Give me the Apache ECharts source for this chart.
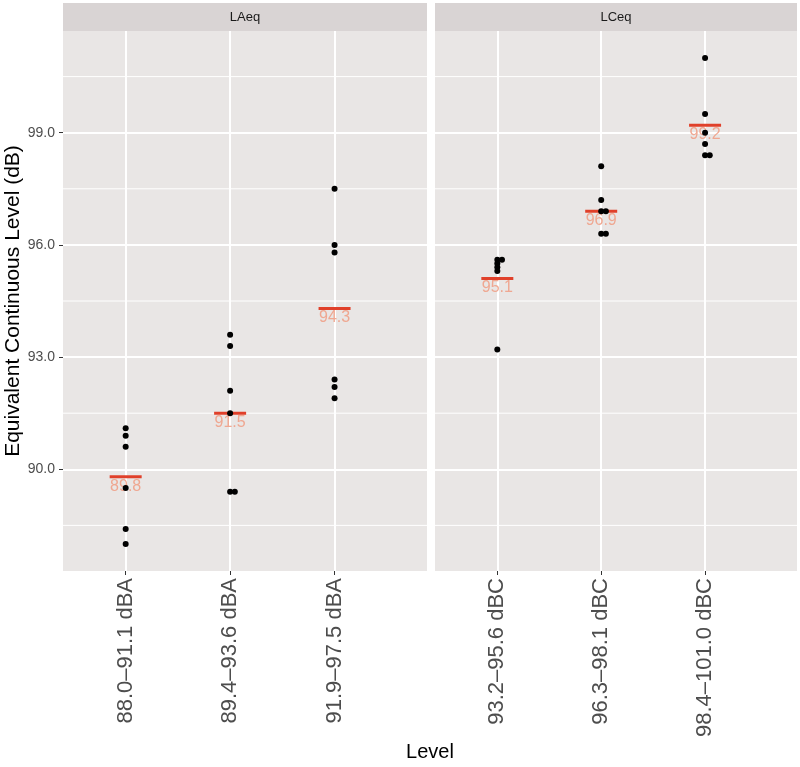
<!DOCTYPE html>
<html><head><meta charset="utf-8">
<script src="https://cdn.jsdelivr.net/npm/echarts@6/dist/echarts.min.js"></script>
<style>html,body{margin:0;padding:0;background:#fff}#c{width:800px;height:767px}</style>
</head><body><div id="c"></div>
<script>
// ---- data ----
const panelNames = ['LAeq', 'LCeq'];
const laeqCategories = ['88.0\u201391.1 dBA', '89.4\u201393.6 dBA', '91.9\u201397.5 dBA'];
const lceqCategories = ['93.2\u201395.6 dBC', '96.3\u201398.1 dBC', '98.4\u2013101.0 dBC'];
const laeqValues = [
  [91.1, 90.9, 90.6, 89.5, 88.4, 88.0],
  [93.6, 93.3, 92.1, 91.5, 89.4, 89.4],
  [97.5, 96.0, 95.8, 92.4, 92.2, 91.9]
];
const lceqValues = [
  [95.6, 95.6, 95.5, 95.4, 95.3, 93.2],
  [98.1, 97.2, 96.9, 96.9, 96.3, 96.3],
  [101.0, 99.5, 99.0, 98.7, 98.4, 98.4]
];
const laeqMeans = [89.8, 91.5, 94.3];
const lceqMeans = [95.1, 96.9, 99.2];
const yMajorTicks = [90, 93, 96, 99];
const yMinorTicks = [88.5, 91.5, 94.5, 97.5, 100.5];
const yTitle = 'Equivalent Continuous Level (dB)';
const xTitle = 'Level';

// ---- layout / style ----
const Y_MIN = 87.28, Y_MAX = 101.72;
const X_MIN = -0.6, X_MAX = 2.885;
const grids = [
  { left: 63, top: 31, width: 364, height: 540 },
  { left: 435, top: 31, width: 362, height: 540 }
];
const STRIP_H = 28;
const panelBg = '#e9e6e5';
const stripBg = '#d9d4d4';
const tickColor = '#4d4d4d';
const FONT = '"Liberation Sans", Arial, Helvetica, sans-serif';

const panels = [
  { cats: laeqCategories, vals: laeqValues, means: laeqMeans },
  { cats: lceqCategories, vals: lceqValues, means: lceqMeans }
];

function dotData(vals) {
  const out = [];
  vals.forEach((arr, i) => {
    const seen = {};
    arr.forEach(v => {
      const k = v.toFixed(1);
      const n = seen[k] || 0;
      seen[k] = n + 1;
      out.push([i + n * 0.045, v]);
    });
  });
  return out;
}

const xAxes = [], yAxes = [], series = [], graphics = [];
panels.forEach((p, pi) => {
  xAxes.push({
    type: 'value', gridIndex: pi, min: X_MIN, max: X_MAX,
    axisLine: { show: false, onZero: false },
    axisTick: { show: true, length: 4, customValues: [0, 1, 2], lineStyle: { color: '#333', width: 1 } },
    axisLabel: {
      customValues: [0, 1, 2], rotate: 90, margin: 7, fontSize: 22, color: tickColor, fontFamily: FONT,
      formatter: v => p.cats[Math.round(v)] || ''
    },
    splitLine: { show: true, lineStyle: { color: '#ffffff', width: 2 } }
  });
  yAxes.push({
    type: 'value', gridIndex: pi, min: Y_MIN, max: Y_MAX,
    axisLine: { show: false, onZero: false },
    axisTick: { show: pi === 0, length: 4, customValues: yMajorTicks, lineStyle: { color: '#333', width: 1 } },
    axisLabel: {
      show: pi === 0, customValues: yMajorTicks, margin: 8, fontSize: 14, color: tickColor, fontFamily: FONT,
      formatter: v => v.toFixed(1)
    },
    splitLine: { show: true, lineStyle: { color: '#ffffff', width: 2 } },
    name: pi === 0 ? yTitle : '',
    nameLocation: 'middle', nameGap: 38, nameRotate: 90,
    nameTextStyle: { fontSize: 21, color: '#000', fontFamily: FONT }
  });
  series.push({
    type: 'custom', xAxisIndex: pi, yAxisIndex: pi, z: 1, silent: true, clip: false,
    data: yMinorTicks.map(v => [0, v]),
    renderItem: (params, api) => {
      const y = api.value(1);
      const a = api.coord([X_MIN, y]), b = api.coord([X_MAX, y]);
      return { type: 'line', shape: { x1: a[0], y1: a[1], x2: b[0], y2: b[1] }, style: { stroke: '#ffffff', lineWidth: 1 } };
    }
  });
  series.push({
    type: 'scatter', xAxisIndex: pi, yAxisIndex: pi, z: 3, silent: true,
    symbol: 'rect', symbolSize: [32, 3],
    itemStyle: { color: '#e0402a', opacity: 1 },
    data: p.means.map((m, i) => [i, m]),
    label: {
      show: true, position: 'bottom', distance: 0, offset: [0, 0],
      formatter: d => d.value[1].toFixed(1),
      fontSize: 16, color: 'rgba(240,160,135,0.9)', fontFamily: FONT
    }
  });
  series.push({
    type: 'scatter', xAxisIndex: pi, yAxisIndex: pi, z: 5, silent: true,
    symbol: 'circle', symbolSize: 6,
    itemStyle: { color: '#000000', opacity: 1 },
    data: dotData(p.vals)
  });
  const g = grids[pi];
  graphics.push({
    type: 'rect', shape: { x: g.left, y: g.top - STRIP_H, width: g.width, height: STRIP_H },
    style: { fill: stripBg }, silent: true
  });
  graphics.push({
    type: 'text', x: g.left + g.width / 2, y: g.top - STRIP_H / 2,
    style: { text: panelNames[pi], fontSize: 13, fill: '#1a1a1a', fontFamily: FONT, align: 'center', verticalAlign: 'middle' },
    silent: true
  });
});
graphics.push({
  type: 'text', x: (grids[0].left + grids[1].left + grids[1].width) / 2, y: 752,
  style: { text: xTitle, fontSize: 20, fill: '#000', fontFamily: FONT, align: 'center', verticalAlign: 'middle' },
  silent: true
});

const chart = echarts.init(document.getElementById('c'));
chart.setOption({
  animation: false,
  backgroundColor: '#ffffff',
  grid: grids.map(g => Object.assign({ show: true, backgroundColor: panelBg, borderWidth: 0, containLabel: false }, g)),
  xAxis: xAxes,
  yAxis: yAxes,
  series: series,
  graphic: graphics
});
</script>
</body></html>
